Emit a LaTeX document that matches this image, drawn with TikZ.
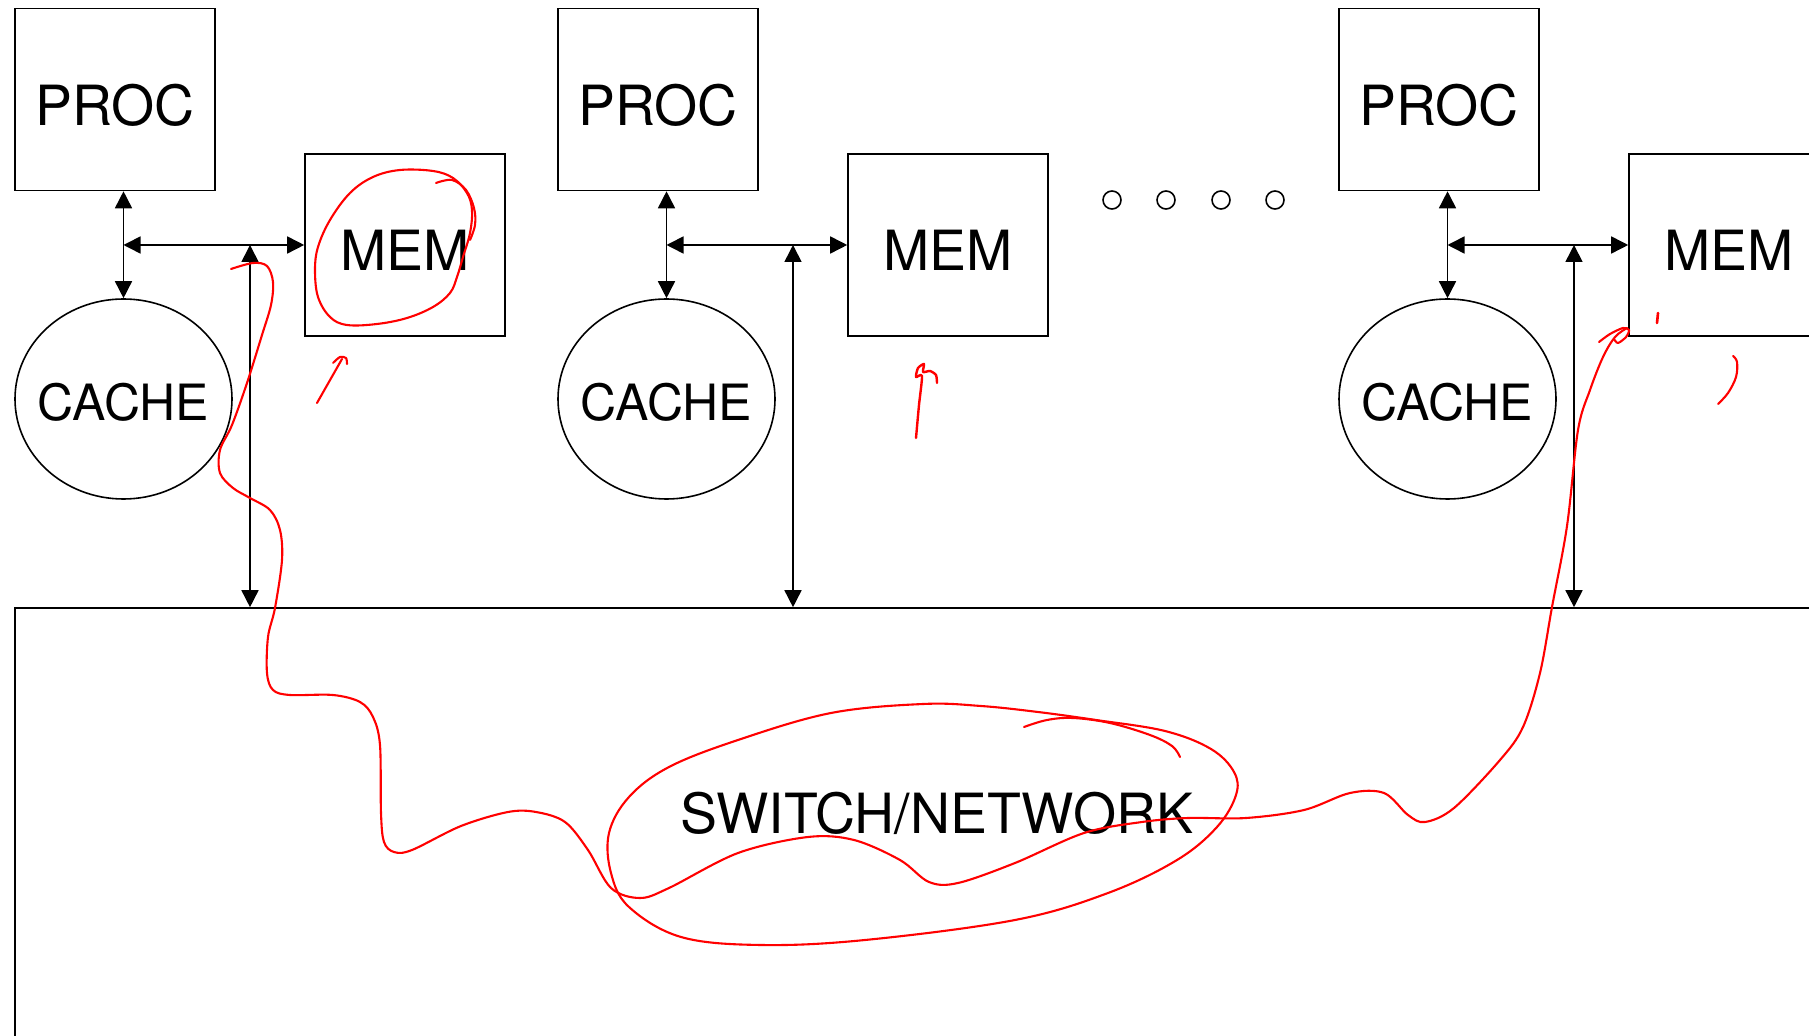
\documentclass[tikz,border=0pt]{standalone}
\usepackage{fontspec}
\setmainfont{TeX Gyre Heros}
\usetikzlibrary{arrows.meta,shapes.geometric}
\begin{document}
\begin{tikzpicture}[x=0.5pt,y=-0.5pt,
  box/.style={draw,line width=0.8pt,minimum width=100pt,minimum height=91pt,inner sep=0pt,
    text height=26pt,text depth=0pt,font=\fontsize{27.7}{31}\selectfont},
  cachebox/.style={draw,ellipse,line width=0.8pt,minimum width=108.5pt,minimum height=100pt,inner xsep=-12pt,inner ysep=0pt,
    text height=22pt,text depth=0pt,font=\fontsize{25}{29}\selectfont},
  link/.style={line width=0.8pt,{Triangle[length=8.5pt,width=8.5pt]}-{Triangle[length=8.5pt,width=8.5pt]}},
  ink/.style={red,line width=1.05pt,line cap=round,line join=round},
  dot/.style={draw,circle,line width=0.8pt,minimum size=9pt,inner sep=0pt}
]
\useasboundingbox (0,0) rectangle (1809,1036);
\clip (0,0) rectangle (1809,1036);
\fill[white] (0,0) rectangle (1809,1036);

% network
\node[draw,line width=0.8pt,minimum width=922pt,minimum height=246pt,inner sep=0pt] (net) at (937,854) {};
\node[anchor=base,inner sep=0pt,font=\fontsize{27.7}{31}\selectfont] (netlabel) at (937,833) {SWITCH/NETWORK};

% three nodes
\foreach \i/\dx in {1/0,2/543,3/1324}{
  \node[box] (proc\i) at (115+\dx,99.5) {PROC};
  \node[box] (mem\i) at (405+\dx,245) {MEM};
  \node[cachebox] (cache\i) at (123.5+\dx,399) {CACHE};
  \coordinate (bus\i) at (123.5+\dx,245);
  \coordinate (tap\i) at (250+\dx,245);
  \draw[link] (proc\i.south -| cache\i.north) -- (cache\i.north);
  \draw[link] (bus\i) -- (mem\i.west);
  \draw[link] (net.north -| tap\i) -- (tap\i);
}

% dots
\node[dot] (d1) at (1112,200) {};
\node[dot] (d2) at (1166,200) {};
\node[dot] (d3) at (1221,200) {};
\node[dot] (d4) at (1275,200) {};

% red ink annotations
\draw[ink] plot[smooth,tension=0.55] coordinates {(231,269) (253,263) (267,266) (273,282) (271,305) (262,335) (247,383) (232,425) (220,450) (220,473) (233,488) (250,498) (270,510) (280,530) (282,560) (275,608) (268,637) (267,673) (273,690) (290,695) (333,695) (360,702) (373,717) (380,745) (381,813) (384,842) (394,852) (412,850) (461,826) (508,812) (536,812) (565,822) (588,850) (611,888) (640,898) (669,888) (738,853) (808,837) (854,840) (900,860) (929,882) (958,883) (1015,863) (1084,833) (1142,822) (1188,818) (1246,818) (1304,810) (1350,793) (1384,793) (1408,815) (1425,822) (1454,808) (1500,760) (1523,727) (1540,673) (1552,607) (1567,526) (1578,430) (1590,390) (1603,357) (1615,337) (1627,328)};
\draw[ink] plot[smooth,tension=0.5] coordinates {(1599,342) (1610,334) (1623,328) (1629,330) (1626,337) (1618,343) (1614,339)};
\draw[ink,line width=1.3pt] (1658,313) -- (1657,323);
\draw[ink] plot[smooth,tension=0.6] coordinates {(1733,356) (1737,362) (1736,377) (1728,393) (1718,404)};

% MEM1 loop
\draw[ink] plot[smooth cycle,tension=0.6] coordinates {(433,171) (400,170) (373,177) (350,193) (330,220) (318,247) (315,270) (318,297) (330,317) (347,325) (377,324) (407,318) (433,307) (450,293) (457,277) (463,257) (470,233) (472,210) (467,193) (453,178)};
\draw[ink] plot[smooth,tension=0.6] coordinates {(436,183) (452,180) (466,190) (474,208) (475,225) (470,240)};
\draw[ink] (317,403) -- (342,359);
\draw[ink] plot[smooth,tension=0.5] coordinates {(333,363) (340,357) (346,358) (347,364)};

% MEM2 mark
\draw[ink,line width=1.2pt] plot[smooth,tension=0.4] coordinates {(916,438) (919,405) (922,376) (916,377) (918,368) (924,364) (923,372) (930,371) (936,375) (937,383)};

% switch ellipse
\draw[ink] plot[smooth cycle,tension=0.6] coordinates {(923,704) (981,706) (1038,712) (1096,720) (1165,731) (1211,749) (1234,772) (1236,795) (1217,827) (1177,860) (1108,893) (1015,920) (865,940) (761,945) (681,937) (629,907) (611,873) (609,833) (629,797) (669,767) (738,740) (831,713)};
\draw[ink] plot[smooth,tension=0.6] coordinates {(1024,727) (1047,720) (1073,718) (1110,723) (1150,735) (1172,746) (1180,757)};
\end{tikzpicture}
\end{document}
